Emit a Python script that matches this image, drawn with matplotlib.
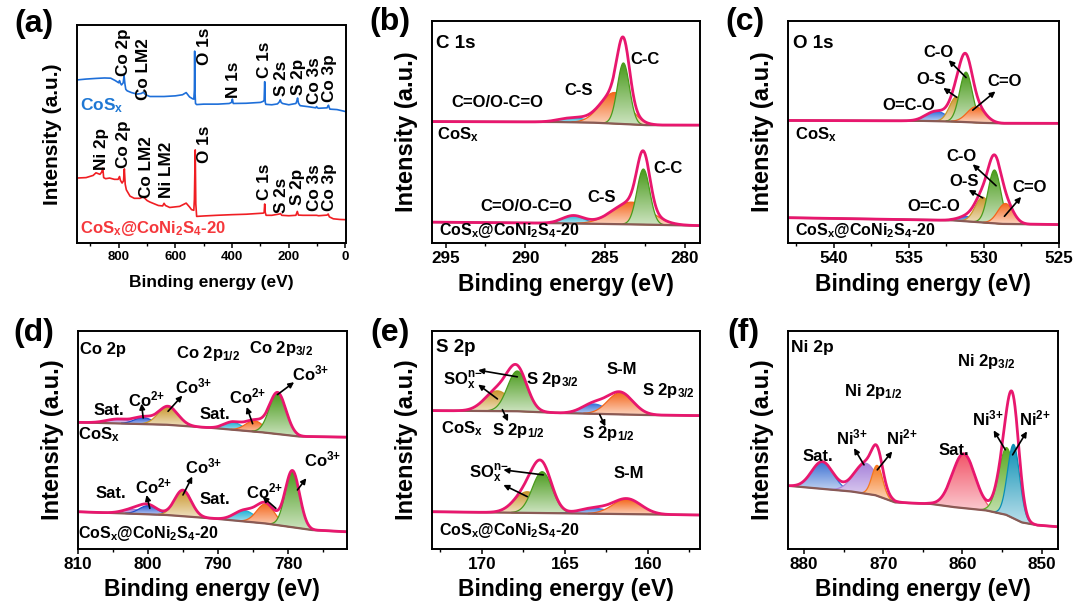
import numpy as np
import matplotlib
matplotlib.use('Agg')
import matplotlib.pyplot as plt
from matplotlib.colors import to_rgb
from matplotlib.ticker import MultipleLocator

plt.rcParams['font.family'] = ['Liberation Sans', 'DejaVu Sans']
plt.rcParams['font.weight'] = 'bold'
plt.rcParams['mathtext.fontset'] = 'custom'
plt.rcParams['mathtext.rm'] = 'Liberation Sans:bold'
plt.rcParams['mathtext.it'] = 'Liberation Sans:bold'
plt.rcParams['mathtext.bf'] = 'Liberation Sans:bold'
plt.rcParams['mathtext.default'] = 'rm'

# ---------------- DATA ----------------
# (a) survey spectra (binding energy eV, intensity a.u.)
survey_cosx_ev = [947, 915, 880, 850, 828, 812, 800, 797, 794, 790, 784, 781, 778, 775, 770, 755, 735, 720,
                  713, 705, 690, 640, 600, 575, 562, 550, 540, 535, 533, 532, 531, 529, 525, 500, 450, 410,
                  402, 399, 396, 350, 300, 290, 287, 285, 283, 281, 260, 240, 233, 230, 227, 222, 200, 175,
                  172, 169, 166, 160, 130, 105, 102, 99, 95, 65, 62, 60, 57, 55, 30, 0]
survey_cosx_int = [.748, .752, .755, .757, .756, .745, .735, .745, .733, .725, .735, .768, .730, .705, .698,
                   .690, .683, .686, .692, .680, .672, .672, .675, .680, .690, .670, .662, .660, .700, .880,
                   .700, .640, .635, .637, .637, .640, .645, .660, .640, .641, .645, .650, .655, .740, .645,
                   .636, .634, .638, .648, .657, .645, .640, .634, .640, .650, .665, .642, .630, .625, .620,
                   .626, .620, .618, .620, .628, .632, .620, .614, .612, .603]
survey_comp_ev = [947, 915, 890, 880, 872, 866, 860, 856, 853, 846, 832, 815, 802, 797, 794, 788, 783, 780,
                  777, 773, 760, 745, 725, 713, 700, 690, 660, 645, 640, 635, 620, 585, 562, 550, 543, 535,
                  533, 530, 528, 525, 500, 455, 400, 350, 290, 287, 285, 283, 280, 260, 233, 229, 225, 200,
                  175, 170, 166, 150, 102, 95, 65, 61, 57, 43, 20, 0]
survey_comp_int = [.298, .300, .310, .322, .318, .315, .325, .344, .300, .295, .298, .292, .292, .305, .288,
                   .275, .285, .340, .270, .244, .215, .205, .205, .212, .195, .188, .172, .170, .182, .172,
                   .163, .168, .183, .165, .153, .150, .200, .427, .180, .122, .124, .127, .130, .132, .137,
                   .140, .179, .140, .127, .127, .133, .135, .127, .125, .127, .145, .128, .127, .127, .125,
                   .128, .133, .120, .111, .108, .107]

# (b) C 1s : components C=O/O-C=O, C-S, C-C  (center eV, height, FWHM eV)
c1s_cosx_center = [287.0, 284.4, 283.85]
c1s_cosx_height = [0.020, 0.140, 0.275]
c1s_cosx_fwhm = [2.0, 2.1, 0.9]
c1s_cosx_bg_ev = [295.85, 288.0, 285.7, 282.4, 279.05]
c1s_cosx_bg = [0.547, 0.545, 0.542, 0.531, 0.531]
c1s_comp_center = [287.0, 283.35, 282.6]
c1s_comp_height = [0.035, 0.100, 0.250]
c1s_comp_fwhm = [1.6, 2.8, 0.95]
c1s_comp_bg_ev = [295.85, 287.8, 282.6, 279.05]
c1s_comp_bg = [0.094, 0.089, 0.083, 0.078]

# (c) O 1s : components O=C-O, O-S, C-O, C=O
o1s_cosx_center = [533.15, 531.8, 531.17, 530.5]
o1s_cosx_height = [0.045, 0.112, 0.225, 0.071]
o1s_cosx_fwhm = [1.6, 1.1, 1.0, 1.4]
o1s_cosx_bg_ev = [543.07, 534.0, 532.0, 530.0, 528.7, 525.0]
o1s_cosx_bg = [0.552, 0.550, 0.547, 0.541, 0.539, 0.539]
o1s_comp_center = [531.05, 530.05, 529.27, 528.54]
o1s_comp_height = [0.022, 0.114, 0.240, 0.092]
o1s_comp_fwhm = [1.4, 1.2, 1.0, 1.2]
o1s_comp_bg_ev = [543.07, 532.05, 528.72, 525.0]
o1s_comp_bg = [0.114, 0.102, 0.086, 0.083]

# (d) Co 2p : Sat., Co2+, Co3+ (2p1/2), Sat., Co2+, Co3+ (2p3/2)
co2p_cosx_center = [804.2, 800.65, 797.1, 787.9, 784.8, 781.5]
co2p_cosx_height = [0.020, 0.030, 0.085, 0.035, 0.050, 0.190]
co2p_cosx_fwhm = [4.0, 3.0, 3.3, 3.0, 3.0, 2.8]
co2p_cosx_bg_ev = [809.9, 797.3, 790.7, 783.65, 778.45, 771.8]
co2p_cosx_bg = [0.580, 0.569, 0.554, 0.534, 0.515, 0.512]
co2p_comp_center = [802.1, 799.9, 795.0, 786.2, 783.2, 779.4]
co2p_comp_height = [0.020, 0.040, 0.120, 0.050, 0.090, 0.260]
co2p_comp_fwhm = [3.5, 3.0, 2.8, 3.5, 3.0, 2.4]
co2p_comp_bg_ev = [809.9, 797.3, 790.7, 783.2, 776.6, 771.8]
co2p_comp_bg = [0.169, 0.154, 0.138, 0.115, 0.085, 0.077]

# (e) S 2p : SOx(1/2), SOx(3/2), S-M 2p1/2, S-M 2p3/2
s2p_cosx_center = [169.06, 167.86, 163.25, 161.65]
s2p_cosx_height = [0.093, 0.185, 0.045, 0.100]
s2p_cosx_fwhm = [1.8, 1.4, 1.7, 1.8]
s2p_cosx_bg_ev = [172.96, 167.86, 165.26, 160.25, 156.95]
s2p_cosx_bg = [0.634, 0.631, 0.623, 0.614, 0.611]
s2p_comp_center = [167.26, 166.36, 163.25, 161.25]
s2p_comp_height = [0.097, 0.190, 0.025, 0.070]
s2p_comp_fwhm = [1.8, 1.4, 2.0, 2.0]
s2p_comp_bg_ev = [172.96, 165.26, 156.95]
s2p_comp_bg = [0.169, 0.162, 0.154]

# (f) Ni 2p : Sat., Ni3+, Ni2+ (2p1/2), Sat., Ni3+, Ni2+ (2p3/2)
ni2p_center = [877.7, 872.2, 870.76, 859.84, 854.4, 853.54]
ni2p_height = [0.125, 0.140, 0.140, 0.250, 0.310, 0.340]
ni2p_fwhm = [3.2, 3.5, 1.6, 3.4, 2.4, 1.8]
ni2p_bg_ev = [881.9, 874.0, 871.0, 868.5, 864.0, 861.0, 857.0, 854.5, 852.5, 850.5, 848.0]
ni2p_bg = [0.288, 0.262, 0.245, 0.212, 0.205, 0.190, 0.175, 0.155, 0.120, 0.107, 0.100]

# ---------------- STYLE ----------------
W, H = 1080, 611
fig = plt.figure(figsize=(W / 100, H / 100), dpi=100)

ENV = '#E8176E'
BGC = '#8A5A55'
GREEN = '#4A9B1C'
ORANGE = '#F4661B'
CYAN = '#20B2D5'
BLUE = '#2F6FDB'
GOLD = '#C9962B'
PURPLE = '#A77FD6'
DBLUE = '#2050D0'

# axes boxes in pixels: left, right, top, bottom
BOX = {'a': (77, 345.5, 25, 243), 'b': (432, 700, 21, 243), 'c': (787.5, 1058.5, 21, 243),
       'd': (77.5, 346.5, 331, 548.5), 'e': (432, 700, 331, 548.5), 'f': (787.5, 1057.5, 331, 548.5)}
# reference coordinate frame for placing annotations
Z = {'a': (232, 1037, 80, 735), 'b': (213, 1020, 65, 705), 'c': (205, 1017, 65, 705),
     'd': (232, 1043, 95, 745), 'e': (213, 1020, 95, 745), 'f': (205, 1017, 95, 745)}

ANN = 12


def zf(p, zx, zy):
    L, R, T, B = Z[p]
    return ((zx - L) / (R - L), (B - zy) / (B - T))


def txt(ax, p, s, zx, zy, size=ANN, **kw):
    fx, fy = zf(p, zx, zy)
    kw.setdefault('ha', 'left')
    kw.setdefault('va', 'center')
    ax.text(fx, fy, s, transform=ax.transAxes, fontsize=size, fontweight='bold', zorder=40, **kw)


def arrow(ax, p, tail, head):
    ax.annotate('', xy=zf(p, *head), xytext=zf(p, *tail), xycoords='axes fraction',
                textcoords='axes fraction',
                arrowprops=dict(arrowstyle='-|>', color='k', lw=1.2, mutation_scale=8,
                                shrinkA=0, shrinkB=0), zorder=40)


def make_ax(p, xlim, major, minor):
    L, R, T, B = BOX[p]
    ax = fig.add_axes([L / W, 1 - B / H, (R - L) / W, (B - T) / H])
    ax.set_xlim(*xlim)
    ax.set_ylim(0, 1)
    ax.set_yticks([])
    ax.xaxis.set_major_locator(MultipleLocator(major))
    ax.xaxis.set_minor_locator(MultipleLocator(minor))
    for s in ax.spines.values():
        s.set_linewidth(1.4)
        s.set_zorder(50)
    fs = 9.5 if p == 'a' else 12.3
    ax.tick_params(axis='x', which='major', direction='out', length=3.5, width=1.1,
                   labelsize=fs, pad=2.5)
    ax.tick_params(axis='x', which='minor', direction='out', length=2.2, width=1.0)
    for lab in ax.get_xticklabels():
        lab.set_fontweight('bold')
    xs = 12.5 if p == 'a' else 16.5
    ys = 15 if p == 'a' else 17
    yoff = 40 if p == 'a' else 41
    fig.text((L + R) / 2 / W, 1 - (B + yoff) / H, 'Binding energy (eV)', fontsize=xs,
             fontweight='bold', ha='center', va='center')
    fig.text((L - 25) / W, 1 - (T + B) / 2 / H, 'Intensity (a.u.)', fontsize=ys,
             fontweight='bold', ha='center', va='center', rotation=90)
    return ax


def gauss(x, c, h, w):
    return h * np.exp(-4 * np.log(2) * (x - c) ** 2 / w ** 2)


def grad_fill(ax, x, y0, y1, color, z):
    poly = ax.fill_between(x, y0, y1, facecolor='none', edgecolor=color, lw=0.9, zorder=z + 0.5)
    rgb = np.array(to_rgb(color))
    t = np.linspace(0, 1, 64)[:, None]
    light = rgb + (1 - rgb) * 0.72
    img = (light[None, :] * (1 - t) + rgb[None, :] * t)[:, None, :]
    im = ax.imshow(img, extent=[x.min(), x.max(), y0.min(), y1.max()], origin='lower',
                   aspect='auto', zorder=z, interpolation='bilinear')
    im.set_clip_path(poly.get_paths()[0], transform=ax.transData)


def draw_fit(ax, xlim, bg_ev, bg_int, centers, heights, fwhms, colors):
    lo, hi = min(xlim), max(xlim)
    x = np.linspace(lo, hi, 1500)
    order = np.argsort(bg_ev)
    bg = np.interp(x, np.array(bg_ev)[order], np.array(bg_int)[order])
    total = bg.copy()
    for i, (c, h, w, col) in enumerate(zip(centers, heights, fwhms, colors)):
        comp = gauss(x, c, h, w)
        m = comp > 0.0015
        grad_fill(ax, x[m], bg[m], bg[m] + comp[m], col, 2 + i)
        total += comp
    ax.plot(bg_ev, bg_int, color=BGC, lw=1.6, zorder=20)
    ax.plot(x, total, color=ENV, lw=2.0, zorder=21)
    ax.set_xlim(*xlim)
    ax.set_ylim(0, 1)


# ---------------- (a) ----------------
ax = make_ax('a', (947, 0), 200, 100)
ax.plot(survey_cosx_ev, survey_cosx_int, color='#1E6FD9', lw=1.2)
ax.plot(survey_comp_ev, survey_comp_int, color='#F01E23', lw=1.2)
for s, zx, zy in [('Co 2p', 372, 232), ('Co LM2', 432, 305), ('O 1s', 615, 200), ('N 1s', 700, 300),
                  ('C 1s', 795, 240), ('S 2s', 845, 292), ('S 2p', 895, 290), ('Co 3s', 943, 316),
                  ('Co 3p', 988, 310),
                  ('Ni 2p', 305, 515), ('Co 2p', 372, 510), ('Co LM2', 440, 600), ('Ni LM2', 500, 600),
                  ('O 1s', 615, 495), ('C 1s', 795, 605), ('S 2s', 845, 645), ('S 2p', 893, 620),
                  ('Co 3s', 943, 640), ('Co 3p', 988, 640)]:
    txt(ax, 'a', s, zx, zy, size=12.3, rotation=90, ha='center', va='bottom')
txt(ax, 'a', 'CoS$_x$', 240, 322, size=12.5, color='#1F78D4')
txt(ax, 'a', 'CoS$_x$@CoNi$_2$S$_4$-20', 240, 690, size=12, color='#F5383C')

# ---------------- (b) ----------------
ax = make_ax('b', (295.85, 279.05), 5, 2.5)
draw_fit(ax, (295.85, 279.05), c1s_cosx_bg_ev, c1s_cosx_bg, c1s_cosx_center, c1s_cosx_height,
         c1s_cosx_fwhm, [CYAN, ORANGE, GREEN])
draw_fit(ax, (295.85, 279.05), c1s_comp_bg_ev, c1s_comp_bg, c1s_comp_center, c1s_comp_height,
         c1s_comp_fwhm, [CYAN, ORANGE, GREEN])
txt(ax, 'b', 'C 1s', 225, 130, size=13.5)
txt(ax, 'b', 'C-C', 810, 175)
txt(ax, 'b', 'C-S', 612, 265)
txt(ax, 'b', 'C=O/O-C=O', 270, 300)
txt(ax, 'b', 'CoS$_x$', 228, 392, size=12)
txt(ax, 'b', 'C-C', 880, 490)
txt(ax, 'b', 'C-S', 680, 575)
txt(ax, 'b', 'C=O/O-C=O', 360, 600)
txt(ax, 'b', 'CoS$_x$@CoNi$_2$S$_4$-20', 235, 668, size=11.5)

# ---------------- (c) ----------------
ax = make_ax('c', (543.07, 525.0), 5, 2.5)
draw_fit(ax, (543.07, 525.0), o1s_cosx_bg_ev, o1s_cosx_bg, o1s_cosx_center, o1s_cosx_height,
         o1s_cosx_fwhm, [BLUE, GOLD, GREEN, ORANGE])
draw_fit(ax, (543.07, 525.0), o1s_comp_bg_ev, o1s_comp_bg, o1s_comp_center, o1s_comp_height,
         o1s_comp_fwhm, [BLUE, GOLD, GREEN, ORANGE])
txt(ax, 'c', 'O 1s', 220, 130, size=13.5)
txt(ax, 'c', 'C-O', 612, 155)
txt(ax, 'c', 'O-S', 590, 235)
txt(ax, 'c', 'C=O', 805, 240)
txt(ax, 'c', 'O=C-O', 490, 310)
arrow(ax, 'c', (740, 228), (688, 178))
arrow(ax, 'c', (712, 285), (672, 258))
arrow(ax, 'c', (760, 322), (828, 268))
txt(ax, 'c', 'CoS$_x$', 228, 392, size=12)
txt(ax, 'c', 'C-O', 680, 455)
txt(ax, 'c', 'O-S', 690, 527)
txt(ax, 'c', 'C=O', 880, 545)
txt(ax, 'c', 'O=C-O', 565, 600)
arrow(ax, 'c', (830, 540), (760, 478))
arrow(ax, 'c', (790, 575), (748, 552))
arrow(ax, 'c', (855, 628), (905, 572))
txt(ax, 'c', 'CoS$_x$@CoNi$_2$S$_4$-20', 228, 668, size=11.5)

# ---------------- (d) ----------------
ax = make_ax('d', (810, 771.7), 10, 5)
dcols = [PURPLE, DBLUE, GOLD, CYAN, ORANGE, GREEN]
draw_fit(ax, (810, 771.7), co2p_cosx_bg_ev, co2p_cosx_bg, co2p_cosx_center, co2p_cosx_height,
         co2p_cosx_fwhm, dcols)
draw_fit(ax, (810, 771.7), co2p_comp_bg_ev, co2p_comp_bg, co2p_comp_center, co2p_comp_height,
         co2p_comp_fwhm, dcols)
txt(ax, 'd', 'Co 2p', 240, 150, size=12)
txt(ax, 'd', 'Co 2p$_{1/2}$', 530, 162, size=12)
txt(ax, 'd', 'Co 2p$_{3/2}$', 750, 148, size=12)
txt(ax, 'd', 'Sat.', 280, 332)
txt(ax, 'd', 'Co$^{2{+}}$', 385, 300)
txt(ax, 'd', 'Co$^{3{+}}$', 525, 262)
txt(ax, 'd', 'Sat.', 600, 345)
txt(ax, 'd', 'Co$^{2{+}}$', 690, 290)
txt(ax, 'd', 'Co$^{3{+}}$', 880, 222)
arrow(ax, 'd', (430, 355), (425, 312))
arrow(ax, 'd', (505, 335), (548, 288))
arrow(ax, 'd', (760, 372), (742, 322))
arrow(ax, 'd', (835, 285), (885, 248))
txt(ax, 'd', 'CoS$_x$', 235, 405, size=12)
txt(ax, 'd', 'Sat.', 285, 580)
txt(ax, 'd', 'Co$^{2{+}}$', 405, 560)
txt(ax, 'd', 'Co$^{3{+}}$', 555, 500)
txt(ax, 'd', 'Sat.', 600, 600)
txt(ax, 'd', 'Co$^{2{+}}$', 740, 575)
txt(ax, 'd', 'Co$^{3{+}}$', 915, 480)
arrow(ax, 'd', (450, 625), (440, 585))
arrow(ax, 'd', (550, 585), (578, 530))
arrow(ax, 'd', (830, 625), (790, 590))
arrow(ax, 'd', (895, 570), (922, 535))
txt(ax, 'd', 'CoS$_x$@CoNi$_2$S$_4$-20', 235, 700, size=11.5)

# ---------------- (e) ----------------
ax = make_ax('e', (173.0, 156.85), 5, 2.5)
ecols = [GOLD, GREEN, '#3A75DA', ORANGE]
draw_fit(ax, (173.0, 156.85), s2p_cosx_bg_ev, s2p_cosx_bg, s2p_cosx_center, s2p_cosx_height,
         s2p_cosx_fwhm, ecols)
draw_fit(ax, (173.0, 156.85), s2p_comp_bg_ev, s2p_comp_bg, s2p_comp_center, s2p_comp_height,
         s2p_comp_fwhm, ecols)
txt(ax, 'e', 'S 2p', 225, 145, size=13.5)
txt(ax, 'e', 'SO$_x^{n{-}}$', 245, 245)
txt(ax, 'e', 'S 2p$_{3/2}$', 495, 240)
txt(ax, 'e', 'S-M', 740, 210)
txt(ax, 'e', 'S 2p$_{3/2}$', 845, 272)
txt(ax, 'e', 'CoS$_x$', 240, 388, size=12)
txt(ax, 'e', 'S 2p$_{1/2}$', 395, 392)
txt(ax, 'e', 'S 2p$_{1/2}$', 665, 402)
arrow(ax, 'e', (470, 232), (352, 212))
arrow(ax, 'e', (410, 298), (352, 255))
arrow(ax, 'e', (425, 330), (442, 365))
arrow(ax, 'e', (718, 345), (735, 380))
txt(ax, 'e', 'SO$_x^{n{-}}$', 325, 523)
txt(ax, 'e', 'S-M', 760, 520)
arrow(ax, 'e', (548, 525), (428, 510))
arrow(ax, 'e', (500, 590), (428, 555))
txt(ax, 'e', 'CoS$_x$@CoNi$_2$S$_4$-20', 235, 690, size=11.5)

# ---------------- (f) ----------------
ax = make_ax('f', (882.1, 848.0), 10, 5)
fcols = ['#3A6FD2', '#A884DA', '#F5791F', '#F2576A', '#5BAA23', '#0A8FB5']
draw_fit(ax, (882.1, 848.0), ni2p_bg_ev, ni2p_bg, ni2p_center, ni2p_height, ni2p_fwhm, fcols)
txt(ax, 'f', 'Ni 2p', 215, 145, size=12.5)
txt(ax, 'f', 'Ni 2p$_{3/2}$', 715, 187, size=12)
txt(ax, 'f', 'Ni 2p$_{1/2}$', 375, 277, size=12)
txt(ax, 'f', 'Sat.', 250, 470)
txt(ax, 'f', 'Ni$^{3{+}}$', 350, 412)
txt(ax, 'f', 'Ni$^{2{+}}$', 500, 412)
txt(ax, 'f', 'Sat.', 660, 452)
txt(ax, 'f', 'Ni$^{3{+}}$', 760, 357)
txt(ax, 'f', 'Ni$^{2{+}}$', 900, 357)
arrow(ax, 'f', (435, 495), (405, 445))
arrow(ax, 'f', (475, 510), (520, 455))
arrow(ax, 'f', (860, 450), (825, 392))
arrow(ax, 'f', (882, 465), (925, 395))

# panel letters
for s, px, py in [('(a)', 34, 24), ('(b)', 390, 22), ('(c)', 745, 22),
                  ('(d)', 34, 333), ('(e)', 390, 333), ('(f)', 743, 333)]:
    fig.text(px / W, 1 - py / H, s, fontsize=23, fontweight='bold', ha='center', va='center')

fig.savefig('out.png', dpi=100)
